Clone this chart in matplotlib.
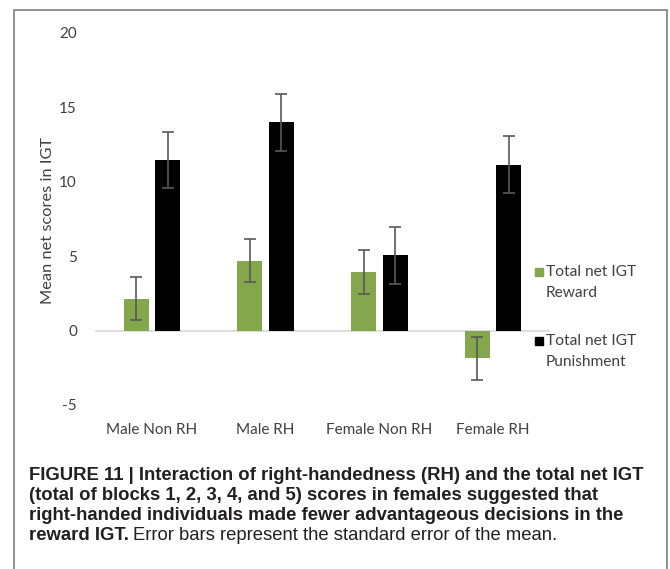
import matplotlib
matplotlib.use("Agg")
import matplotlib.pyplot as plt
from matplotlib.patches import Rectangle
import numpy as np

# data
groups = ["Male Non RH", "Male RH", "Female Non RH", "Female RH"]
reward = [2.15, 4.7, 3.95, -1.85]
reward_se = [1.45, 1.45, 1.5, 1.45]
punish = [11.45, 14.0, 5.05, 11.15]
punish_se = [1.9, 1.9, 1.9, 1.9]
series_labels = ["Total net IGT\nReward", "Total net IGT\nPunishment"]
yticks = [-5, 0, 5, 10, 15, 20]

green = "#84a74d"
black = "#000000"
txt = "#404040"
chart_font = "Lato"
plt.rcParams["axes.unicode_minus"] = False

W, H = 670, 569
fig = plt.figure(figsize=(W / 100, H / 100), dpi=100)

# outer frame
fig.patches.append(Rectangle((14 / W, -0.01), 653 / W, 1 - 10 / H + 0.01,
                             transform=fig.transFigure, fill=False,
                             edgecolor="#7f7f7f", lw=1.2))

ax = fig.add_axes([95 / W, 1 - 405 / H, 455 / W, 372 / H])
x = np.arange(len(groups))
bw = 0.22
off = 0.139
ax.bar(x - off, reward, bw, color=green, zorder=2)
ax.bar(x + off, punish, bw, color=black, zorder=2)
ekw = dict(fmt="none", ecolor="#595959", elinewidth=1.2, capsize=4.5,
           capthick=1.2, zorder=3)
ax.errorbar(x - off, reward, yerr=reward_se, **ekw)
ax.errorbar(x + off, punish, yerr=punish_se, **ekw)
ax.axhline(0, color="#d9d9d9", lw=1.2, zorder=1)

ax.set_xlim(-0.5, 3.5)
ax.set_ylim(-5, 20)
ax.set_yticks(yticks)
ax.set_xticks(x)
ax.set_xticklabels(groups)
ax.tick_params(axis="both", length=0, colors=txt, labelsize=11)
ax.tick_params(axis="x", pad=13)
ax.tick_params(axis="y", pad=13)
for lab in ax.get_xticklabels() + ax.get_yticklabels():
    lab.set_fontfamily(chart_font)
for s in ax.spines.values():
    s.set_visible(False)

fig.text(48 / W, 1 - 220 / H, "Mean net scores in IGT", rotation=90,
         ha="center", va="center", fontsize=11.8, color=txt,
         family=chart_font)

# legend
for i, (lab, col) in enumerate(zip(series_labels, [green, black])):
    ytop = [265, 334][i]
    fig.patches.append(Rectangle((535 / W, 1 - (ytop + 11) / H), 8 / W, 8 / H,
                                 transform=fig.transFigure, color=col))
    fig.text(546 / W, 1 - ytop / H, lab, ha="left", va="top", fontsize=11.2,
             color=txt, family=chart_font, linespacing=1.65)

# caption
cap_font = "Liberation Sans"
cap_size = 13.3
cap_lines = [
    "FIGURE 11 | Interaction of right-handedness (RH) and the total net IGT",
    "(total of blocks 1, 2, 3, 4, and 5) scores in females suggested that",
    "right-handed individuals made fewer advantageous decisions in the",
]
cap_y = [475, 495, 515, 535]
for t, yy in zip(cap_lines, cap_y):
    fig.text(29 / W, 1 - yy / H, t, ha="left", va="center", fontsize=cap_size,
             fontweight="bold", color="#231f20", family=cap_font)
b = fig.text(29 / W, 1 - cap_y[3] / H, "reward IGT.", ha="left", va="center",
             fontsize=cap_size, fontweight="bold", color="#231f20",
             family=cap_font)
fig.canvas.draw()
bb = b.get_window_extent()
fig.text((bb.x1 + 4) / W, 1 - cap_y[3] / H,
         "Error bars represent the standard error of the mean.",
         ha="left", va="center", fontsize=cap_size, color="#231f20",
         family=cap_font)

fig.savefig("out.png", dpi=100)
